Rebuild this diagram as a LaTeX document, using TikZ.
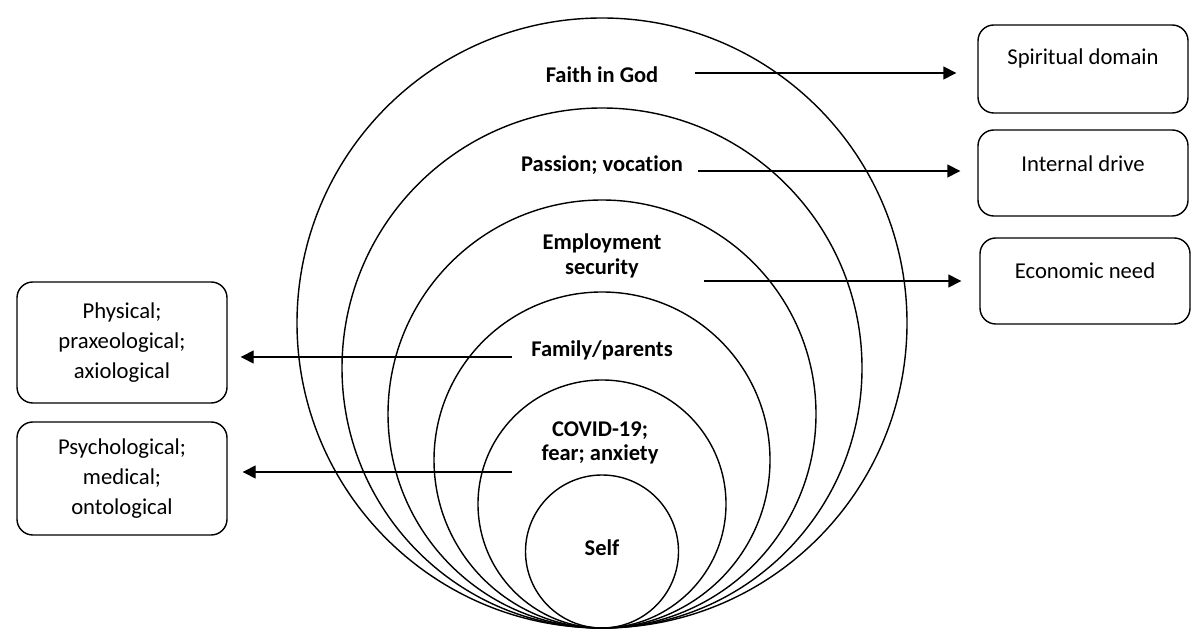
\documentclass[tikz,border=0pt]{standalone}
\usepackage{fontspec}
\setmainfont{Carlito}[Ligatures=CommonOff]
\usetikzlibrary{arrows.meta, positioning, calc}

\begin{document}
\begin{tikzpicture}[
    >={Triangle[length=2.6mm, width=2.6mm]},
    ring/.style={
      circle, draw, line width=0.8pt, inner sep=0pt
    },
    ringlbl/.style={
      font=\fontsize{12.8}{13.8}\selectfont\bfseries, align=center
    },
    sidebox/.style={
      draw, line width=0.8pt, rounded corners=9pt,
      minimum width=4.2cm, inner sep=0pt
    },
    boxlbl/.style={
      font=\fontsize{12.9}{17}\selectfont, align=center
    },
    arc/.style={->, line width=0.8pt}
  ]

  \useasboundingbox (0,0) rectangle (24.08,12.76);

  % Cercles emboites (tous tangents en bas)
  \coordinate (base) at (12.04,0.2);
  \node[ring, minimum size=12.2cm]  (faithring)   at ($(base)+(0,6.10)$) {};
  \node[ring, minimum size=10.4cm]  (passionring) at ($(base)+(0,5.20)$) {};
  \node[ring, minimum size=8.56cm]  (employring)  at ($(base)+(0,4.28)$) {};
  \node[ring, minimum size=6.72cm]  (familyring)  at ($(base)+(0,3.36)$) {};
  \node[ring, minimum size=4.96cm]  (covidring)   at ($(base)+(0,2.48)$) {};
  \node[ring, minimum size=3.06cm]  (selfring)    at ($(base)+(0,1.53)$) {};

  % Etiquettes des cercles
  \node[ringlbl] (faith)   at (12.04,11.26) {Faith in God};
  \node[ringlbl] (passion) at (12.04, 9.46) {Passion; vocation};
  \node[ringlbl] (employ)  at (12.04, 7.64) {Employment\\security};
  \node[ringlbl] (family)  at (12.04, 5.76) {Family/parents};
  \node[ringlbl] (covid)   at (12.00, 3.90) {COVID-19;\\fear; anxiety};
  \node[ringlbl] (self)    at (12.04, 1.80) {Self};

  % Boites de droite (texte en haut)
  \node[sidebox, minimum height=1.76cm] (spirit) at (21.66,11.38) {};
  \node[sidebox, minimum height=1.72cm] (drive)  at (21.66, 9.30) {};
  \node[sidebox, minimum height=1.72cm] (econ)   at (21.70, 7.14) {};
  \node[boxlbl] (spirittxt) at ([yshift=-0.68cm]spirit.north) {Spiritual domain};
  \node[boxlbl] (drivetxt)  at ([yshift=-0.68cm]drive.north)  {Internal drive};
  \node[boxlbl] (econtxt)   at ([yshift=-0.66cm]econ.north)   {Economic need};

  % Boites de gauche
  \node[sidebox, minimum height=2.42cm] (phys)  at (2.44,5.91) {};
  \node[sidebox, minimum height=2.26cm] (psych) at (2.44,3.19) {};
  \node[boxlbl] (phystxt)  at (phys)  {Physical;\\praxeological;\\axiological};
  \node[boxlbl] (psychtxt) at (psych) {Psychological;\\medical;\\ontological};

  % Departs des fleches
  \coordinate (faithtail)   at (13.90,11.30);
  \coordinate (passiontail) at (13.96, 9.34);
  \coordinate (employtail)  at (14.08, 7.14);
  \coordinate (familytail)  at (10.24, 5.62);
  \coordinate (covidtail)   at (10.24, 3.32);

  % Fleches
  \draw[arc, shorten >=0.42cm] (faithtail)   -- (faithtail -| spirit.west);
  \draw[arc, shorten >=0.34cm] (passiontail) -- (passiontail -| drive.west);
  \draw[arc, shorten >=0.36cm] (employtail)  -- (employtail -| econ.west);
  \draw[arc, shorten >=0.26cm] (familytail)  -- (familytail -| phys.east);
  \draw[arc, shorten >=0.30cm] (covidtail)   -- (covidtail -| psych.east);

\end{tikzpicture}
\end{document}
